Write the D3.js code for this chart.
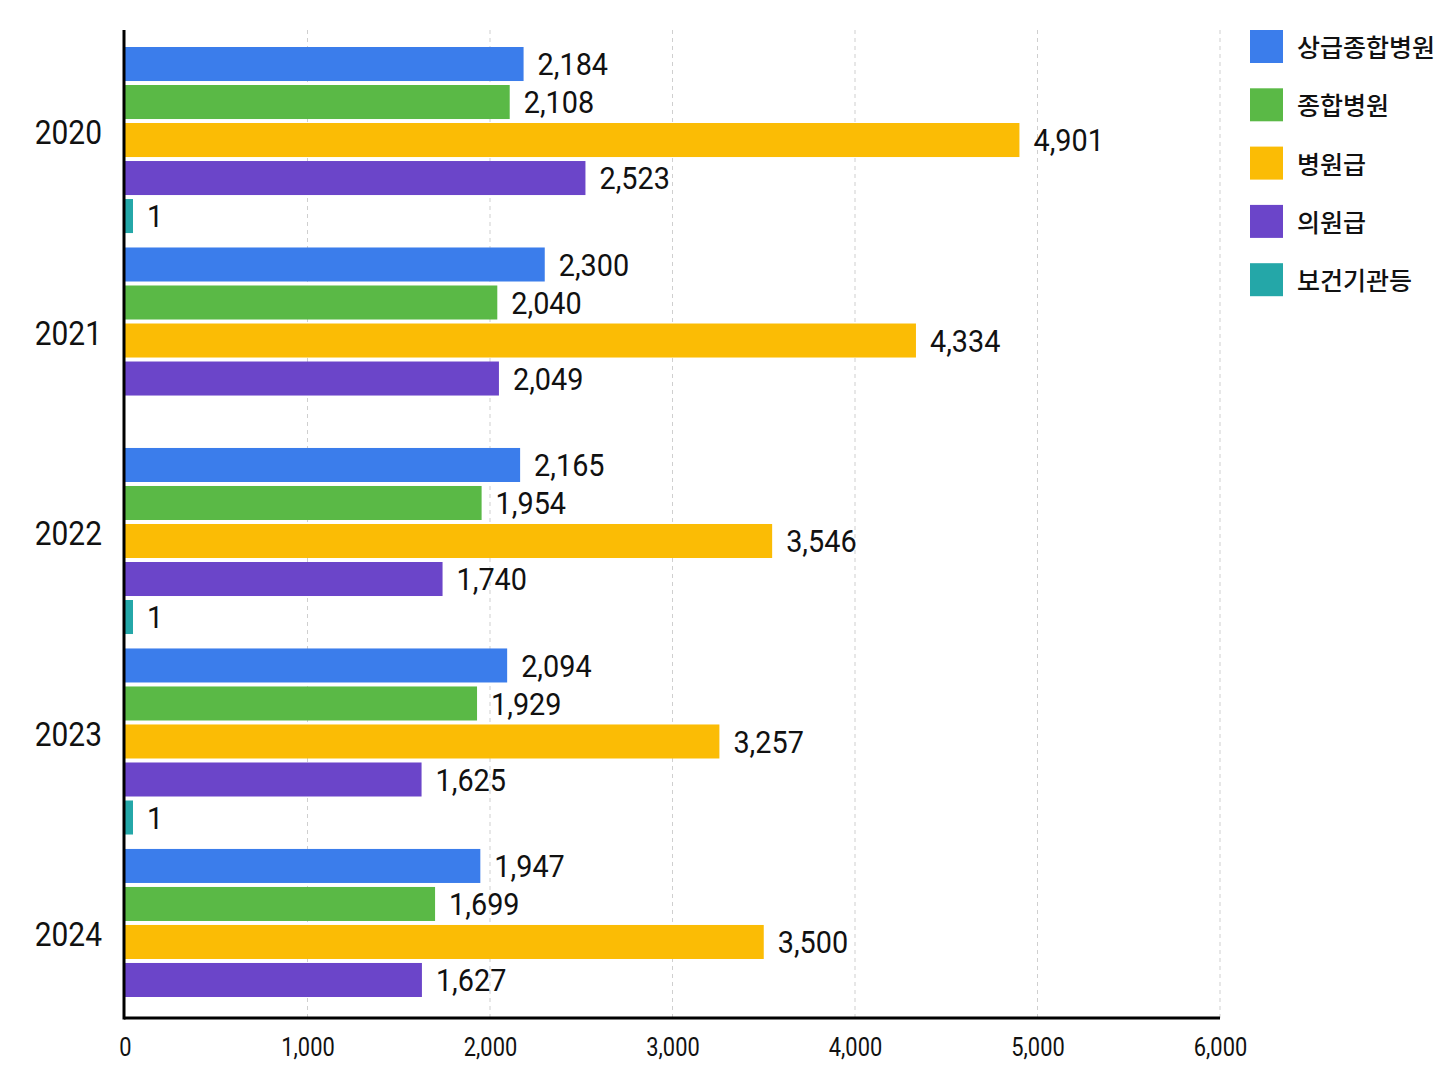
<!DOCTYPE html>
<html><head><meta charset="utf-8">
<script src="https://cdn.jsdelivr.net/npm/d3@7/dist/d3.min.js"></script>
<style>
html,body{margin:0;padding:0;background:#fff;}
svg{display:block;}
</style></head>
<body>
<svg id="chart" width="1448" height="1086"></svg>
<script>
const years = ["2020","2021","2022","2023","2024"];
const seriesNames = ["상급종합병원","종합병원","병원급","의원급","보건기관등"];
const vTertiary = [2184, 2300, 2165, 2094, 1947];
const vGeneral  = [2108, 2040, 1954, 1929, 1699];
const vHospital = [4901, 4334, 3546, 3257, 3500];
const vClinic   = [2523, 2049, 1740, 1625, 1627];
const vPublic   = [1, null, 1, 1, null];
const xTicks = [0, 1000, 2000, 3000, 4000, 5000, 6000];
const colors = ["#3b7deb", "#5ab946", "#fbbc05", "#6b45c9", "#24a7a8"];

const seriesValues = [vTertiary, vGeneral, vHospital, vClinic, vPublic];

(function() {
const svg = d3.select("#chart");
const mLeft = 125, mRight = 1220, mTop = 30, axisY = 1018;

const x = d3.scaleLinear().domain([0, 6000]).range([mLeft, mRight]);
const y0 = d3.scaleBand().domain(years).range([47, 1035]).paddingInner(0.072).paddingOuter(0);
const y1 = d3.scaleBand().domain(seriesNames).range([0, y0.bandwidth()]).paddingInner(0.105);

const numFmt = d3.format(",");

// gridlines
svg.append("g").selectAll("line").data(xTicks.filter(t => t > 0)).join("line")
  .attr("x1", d => x(d)).attr("x2", d => x(d))
  .attr("y1", mTop).attr("y2", axisY)
  .attr("stroke", "#cfcfcf").attr("stroke-width", 1).attr("stroke-dasharray", "4,4");

// bars
const groups = svg.append("g").selectAll("g").data(years).join("g")
  .attr("transform", d => `translate(0,${y0(d)})`);

groups.each(function(year, yi) {
  const g = d3.select(this);
  const items = seriesNames.map((s, si) => ({s, si, v: seriesValues[si][yi]})).filter(d => d.v != null);
  g.selectAll("rect").data(items).join("rect")
    .attr("x", x(0))
    .attr("y", d => y1(d.s))
    .attr("width", d => Math.max(x(d.v) - x(0), 8))
    .attr("height", y1.bandwidth())
    .attr("fill", d => colors[d.si]);
  g.selectAll("text").data(items).join("text")
    .attr("transform", d => `translate(${x(0) + Math.max(x(d.v) - x(0), 8) + 14},${y1(d.s) + y1.bandwidth()/2}) scale(0.93,1)`)
    .attr("dy", "0.36em")
    .attr("font-family", "Roboto, 'Noto Sans', sans-serif")
    .attr("font-size", 31)
    .attr("fill", "#111")
    .text(d => numFmt(d.v));
});

// year labels
svg.append("g").selectAll("text").data(years).join("text")
  .attr("transform", d => `translate(102,${y0(d) + y0.bandwidth()/2 - 8}) scale(0.88,1)`)
  .attr("text-anchor", "end")
  .attr("dy", "0.36em")
  .attr("font-family", "Roboto, 'Noto Sans', sans-serif")
  .attr("font-size", 34)
  .attr("fill", "#111")
  .text(d => d);

// x axis
const xAxis = d3.axisBottom(x).tickValues(xTicks).tickFormat(numFmt).tickSize(0).tickPadding(20);
const gx = svg.append("g").attr("transform", `translate(0,${axisY})`).call(xAxis);
gx.select(".domain").remove();
gx.selectAll("text")
  .attr("font-family", "Roboto, 'Noto Sans', sans-serif")
  .attr("font-size", 26)
  .attr("fill", "#111")
  .attr("transform", "scale(0.84,1)");

svg.append("line").attr("x1", mLeft - 1).attr("x2", mRight).attr("y1", axisY).attr("y2", axisY)
  .attr("stroke", "#000").attr("stroke-width", 3);
svg.append("line").attr("x1", mLeft - 1).attr("x2", mLeft - 1).attr("y1", mTop).attr("y2", axisY + 1.5)
  .attr("stroke", "#000").attr("stroke-width", 3);

// legend
const legend = svg.append("g").selectAll("g").data(seriesNames).join("g")
  .attr("transform", (d, i) => `translate(1250,${30 + i * 58.3})`);
legend.append("rect").attr("width", 33).attr("height", 33).attr("fill", (d, i) => colors[i]);
legend.append("text")
  .attr("x", 47).attr("y", 18).attr("dy", "0.36em")
  .attr("font-family", "'Noto Sans CJK KR', 'Noto Sans', sans-serif")
  .attr("font-size", 25)
  .attr("font-weight", 500)
  .attr("fill", "#111")
  .text(d => d);
})();
</script>
</body></html>
